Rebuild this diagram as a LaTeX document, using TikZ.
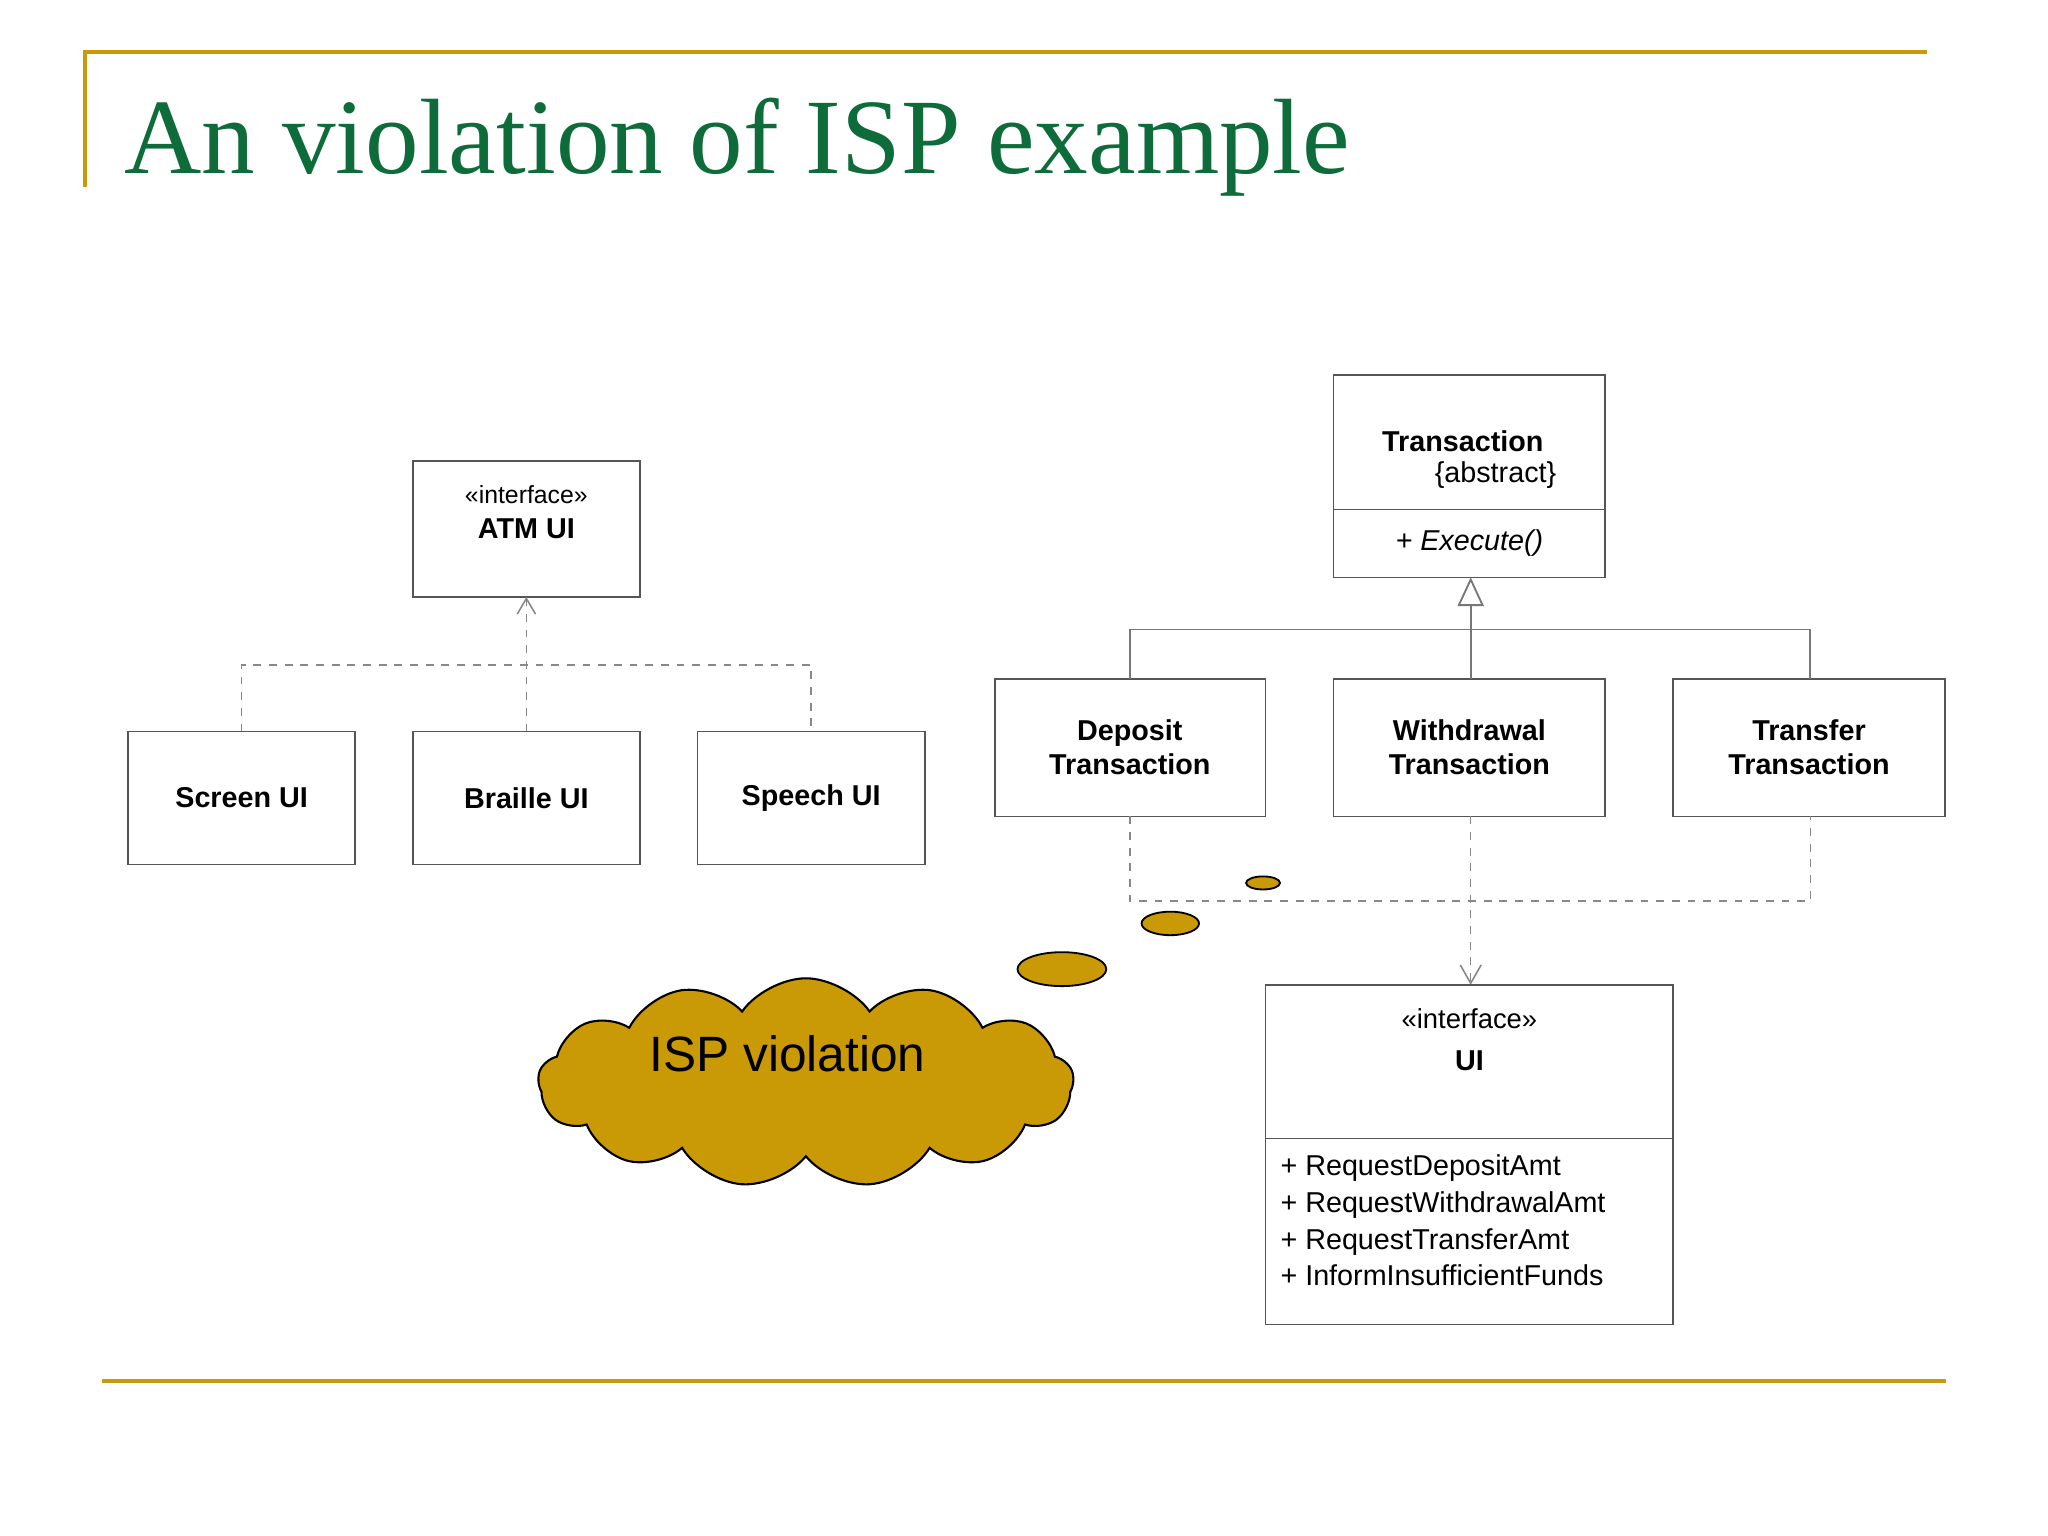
\documentclass[tikz,border=0pt]{standalone}
\usepackage{fontspec}
\setmainfont{Liberation Sans}
\newfontfamily\titlefont{Liberation Serif}
\usetikzlibrary{shapes.symbols,arrows.meta}
\definecolor{gold}{HTML}{C99A06}
\definecolor{ttl}{HTML}{0E6B3A}
\definecolor{ln}{HTML}{555555}
\begin{document}
\begin{tikzpicture}[x=0.5pt,y=-0.5pt,
 box/.style={draw=ln,line width=0.6pt,fill=white},
 lbl/.style={font=\fontsize{11}{13}\selectfont\bfseries,align=center},
 st/.style={font=\fontsize{9.5}{11}\selectfont},
 dsh/.style={draw=ln!70,dashed,line width=0.6pt},
 sol/.style={draw=ln!80,line width=0.7pt}]
\useasboundingbox (0,0) rectangle (1568,1176);
\fill[white] (0,0) rectangle (1568,1176);
\draw[gold,line width=1.5pt] (65,143) -- (65,40) -- (1475,40);
\draw[gold,line width=1.5pt] (78,1057) -- (1490,1057);
\node[anchor=base west,text=ttl,font=\titlefont\fontsize{41}{45}\selectfont,inner sep=0] (title) at (95,133) {An violation of ISP example};
% left group
\draw[box] (316,353) rectangle (490,457);
\node[st] (atmI) at (403,379) {«interface»};
\node[lbl] (atm) at (403,405) {ATM UI};
\coordinate (atmB) at (403,457);
\draw[box] (98,560) rectangle (272,662); \node[lbl] (scr) at (185,611) {Screen UI};
\draw[box] (316,560) rectangle (490,662); \node[lbl] (brl) at (403,611) {Braille UI};
\draw[box] (534,560) rectangle (708,662); \node[lbl] (spc) at (621,611) {Speech UI};
\coordinate (scrT) at (185,560); \coordinate (brlT) at (403,560); \coordinate (spcT) at (621,560);
\draw[dsh] (scrT) -- (185,509) -- (621,509) -- (spcT);
\draw[dsh,-{Straight Barb[length=6pt,width=7pt,line width=0.6pt]}] (brlT) -- (atmB);
% transaction
\draw[box] (1021,287) rectangle (1229,442); \draw[ln] (1021,390) -- (1229,390);
\node[lbl] (tr) at (1120,338) {Transaction};
\node[font=\fontsize{11}{13}\selectfont] (abs) at (1145,364) {\{abstract\}};
\node[font=\fontsize{11}{13}\selectfont\itshape] (ex) at (1125,416) {+ Execute()};
\coordinate (trB) at (1126,442);
\draw[box] (762,520) rectangle (969,625); \node[lbl] (dep) at (865,572) {Deposit\\Transaction};
\draw[box] (1021,520) rectangle (1229,625); \node[lbl] (wd) at (1125,572) {Withdrawal\\Transaction};
\draw[box] (1281,520) rectangle (1489,625); \node[lbl] (tf) at (1385,572) {Transfer\\Transaction};
\coordinate (depT) at (865,520); \coordinate (wdT) at (1126,520); \coordinate (tfT) at (1386,520);
\coordinate (depB) at (865,625); \coordinate (wdB) at (1126,625); \coordinate (tfB) at (1386,625);
\draw[sol] (depT) -- (865,482) -- (1386,482) -- (tfT);
\draw[sol,-{Triangle[open,length=11pt,width=10pt,fill=white]}] (wdT) -- (trB);
\draw[dsh] (depB) -- (865,690) -- (1386,690) -- (tfB);
\coordinate (uiT) at (1126,754);
\draw[dsh,-{Straight Barb[length=7pt,width=8pt,line width=0.6pt]}] (wdB) -- (uiT);
% UI
\draw[box] (969,754) rectangle (1281,1014); \draw[ln] (969,872) -- (1281,872);
\node[font=\fontsize{10.5}{12}\selectfont] (uiI) at (1125,780) {«interface»};
\node[lbl] (ui) at (1125,812) {UI};
\node[anchor=north west,align=left,font=\fontsize{11}{14}\selectfont,inner sep=0] (meth) at (980,884)
 {+ RequestDepositAmt\\+ RequestWithdrawalAmt\\+ RequestTransferAmt\\+ InformInsufficientFunds};
% cloud
\node[cloud,cloud puffs=13,cloud puff arc=110,aspect=2.6,draw=black,fill=gold,line width=0.8pt,
 minimum width=205pt,minimum height=80pt] (cl) at (617,829) {};
\node[font=\fontsize{19}{22}\selectfont] (isp) at (603,807) {ISP violation};
\draw[fill=gold,line width=0.7pt] (967,676) ellipse [x radius=13,y radius=5];
\draw[fill=gold,line width=0.7pt] (896,707) ellipse [x radius=22,y radius=9];
\draw[fill=gold,line width=0.7pt] (813,742) ellipse [x radius=34,y radius=13];
\end{tikzpicture}
\end{document}
